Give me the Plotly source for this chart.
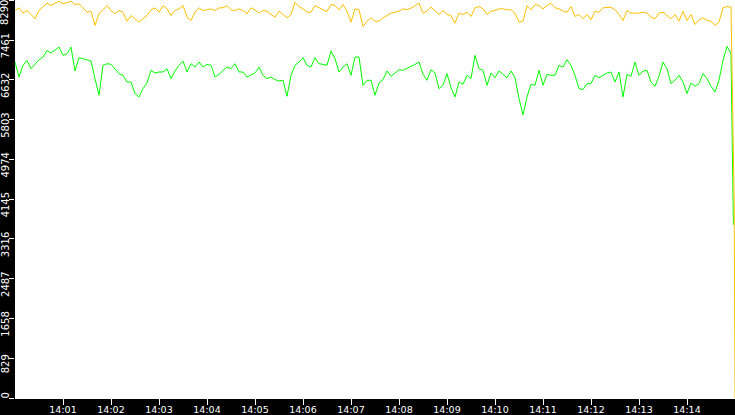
import pandas as pd
import plotly.graph_objects as go

# sampled every 5 s from 14:00:00, last few samples are the partial second at the end
ORANGE_VALUES = [
    8077, 8133, 8022, 8077, 7994, 7904, 8077, 8146, 8230, 8181, 8230, 8271, 8216, 8250, 8271,
    8202, 8216, 8133, 8042, 8063, 7765, 8008, 8091, 8181, 8077, 8008, 8077, 8042, 7855, 7973,
    7904, 7835, 7904, 7973, 8091, 8133, 8042, 8181, 8112, 7973, 8077, 8112, 8181, 7939, 7869,
    8042, 8133, 8077, 8091, 8112, 8077, 8133, 8133, 8181, 8091, 8077, 8112, 8077, 8008,
    8133, 8091, 8022, 8077, 8063, 7994, 7939, 8063, 7994, 7925, 7994, 8250, 8160, 8112, 8042,
    8042, 8181, 8133, 8091, 8056, 8202, 8181, 8091, 8202, 8063, 7835, 8112, 8091, 7744, 7855,
    7925, 7855, 7855, 7925, 7973, 8022, 8042, 8063, 8112, 8091, 8126, 8181, 8230, 8022, 8063,
    8146, 8077, 7994, 8077, 7994, 7973, 7814, 8022, 7994, 8042, 7953, 8133, 8160, 8112, 7994,
    8063, 8077, 8112, 8112, 8091, 8091, 8022, 7835, 7855, 8181, 8091, 8202, 8181, 8112, 8181,
    8230, 8133, 8112, 8063, 8042, 8160, 7953, 7994, 7904, 7994, 7883, 8063, 8042, 8133, 8133,
    8146, 8091, 7994, 7869, 8077, 8022, 8022, 8022, 8042, 8022, 7939, 7904, 8022, 8042, 7973,
    7904, 7994, 7855, 8063, 7869, 7994, 7786, 7883, 7925, 7869, 7855, 7765, 7835, 8133, 8160,
    8146,
]
ORANGE_TAIL_SEC = [899, 900]
ORANGE_TAIL = [4080, 0]

GREEN_VALUES = [
    7003, 6691, 6934, 7038, 6864, 6968, 7052, 7107, 7246, 7190, 7246, 7315, 7142, 7176, 7315,
    6816, 7093, 7072, 7038, 7024, 6657, 6310, 6934, 6968, 6955, 6864, 6761, 6726, 6587, 6587,
    6345, 6275, 6448, 6566, 6830, 6774, 6795, 6795, 6864, 6657, 6816, 6934, 7024, 6795, 6968,
    6899, 7003, 6899, 6955, 6934, 6691, 6747, 6816, 6899, 6864, 6968, 6795, 6795, 6691,
    6726, 6774, 6899, 6726, 6657, 6691, 6636, 6608, 6622, 6289, 6726, 6934, 7003, 7093, 6934,
    6899, 7093, 6968, 6955, 6934, 7232, 7072, 6795, 6899, 6968, 6726, 7107, 7107, 6518, 6622,
    6622, 6310, 6566, 6636, 6816, 6705, 6774, 6843, 6830, 6864, 6913, 6955, 7003, 6747, 6622,
    6843, 6774, 6449, 6518, 6761, 6469, 6275, 6587, 6539, 6726, 6657, 7142, 6864, 6830, 6518,
    6774, 6677, 6816, 6747, 6677, 6816, 6677, 6241, 5900, 6275, 6539, 6518, 6830, 6518, 6747,
    6726, 6726, 6934, 6899, 7052, 6934, 6726, 6449, 6428, 6553, 6553, 6726, 6677, 6726, 6774,
    6795, 6587, 6795, 6275, 6747, 6705, 7003, 6726, 6816, 6830, 6587, 6497, 6705, 7003, 6864,
    6553, 6622, 6726, 6587, 6345, 6566, 6497, 6553, 6761, 6657, 6497, 6379, 6622, 7038, 7329,
    7176,
]
GREEN_TAIL_SEC = [898]
GREEN_TAIL = [3610]

Y_TICKS = [0, 829, 1658, 2487, 3316, 4145, 4974, 5803, 6632, 7461, 8290]
X_TICK_LABELS = ["14:01", "14:02", "14:03", "14:04", "14:05", "14:06", "14:07",
                 "14:08", "14:09", "14:10", "14:11", "14:12", "14:13", "14:14"]

start = pd.Timestamp("2024-01-01 14:00:00")


def to_time(seconds):
    return [start + pd.Timedelta(seconds=s) for s in seconds]


base_sec = list(range(0, 5 * len(ORANGE_VALUES), 5))
orange_x = to_time(base_sec + ORANGE_TAIL_SEC)
green_x = to_time(base_sec + GREEN_TAIL_SEC)
tick_x = [start + pd.Timedelta(minutes=i + 1) for i in range(len(X_TICK_LABELS))]

fig = go.Figure()
fig.add_trace(go.Scatter(x=green_x, y=GREEN_VALUES + GREEN_TAIL, mode="lines",
                         line=dict(color="#00FF00", width=1), hoverinfo="skip"))
fig.add_trace(go.Scatter(x=orange_x, y=ORANGE_VALUES + ORANGE_TAIL, mode="lines",
                         line=dict(color="#FFC000", width=1), hoverinfo="skip"))

fig.update_layout(
    width=735,
    height=415,
    margin=dict(l=15, r=0, t=0, b=17),
    paper_bgcolor="black",
    plot_bgcolor="white",
    showlegend=False,
    font=dict(family="DejaVu Sans", size=10, color="white"),
)
fig.update_xaxes(
    type="date",
    range=[start, start + pd.Timedelta(minutes=15)],
    tickvals=tick_x,
    ticktext=X_TICK_LABELS,
    ticks="outside",
    ticklen=6,
    tickcolor="white",
    tickfont=dict(size=9.5, color="white"),
    ticklabelstandoff=-3,
    showline=True,
    linecolor="white",
    linewidth=1,
    showgrid=False,
    zeroline=False,
    automargin=False,
)
# first and last labels are kept inside the window like the original, so they
# are placed as annotations; the rest sit just below their tick
fig.update_yaxes(
    range=[0, 8296],
    tickvals=Y_TICKS,
    ticktext=[""] + [str(v) for v in Y_TICKS[1:-1]] + [""],
    tickangle=-90,
    ticklabelshift=7,
    ticklabelstandoff=-4,
    ticks="outside",
    ticklen=5,
    tickcolor="white",
    tickfont=dict(size=10, color="white"),
    showline=False,
    showgrid=False,
    zeroline=False,
    automargin=False,
)
for label, pos, anchor in [(Y_TICKS[-1], 1, "top"), (Y_TICKS[0], 0, "bottom")]:
    fig.add_annotation(
        text=str(label),
        xref="paper", yref="paper",
        x=0, y=pos,
        xanchor="right", yanchor=anchor,
        xshift=-4, yshift=1 if anchor == "top" else -2,
        textangle=-90,
        showarrow=False,
        borderpad=0,
        font=dict(size=10, color="white"),
    )

# page has a default 8px body margin, drop it so the figure sits at the window corner
fig.write_html(
    "out.html",
    config={"displayModeBar": False},
    post_script="document.body.style.margin='0';document.body.style.background='black';",
)
